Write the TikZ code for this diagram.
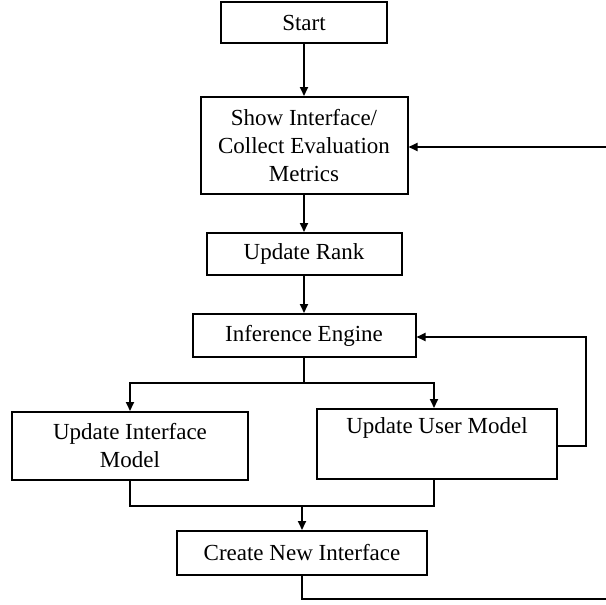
\documentclass[tikz,border=0pt]{standalone}
\usepackage{fontspec}
\setmainfont{Liberation Serif}
\usetikzlibrary{arrows.meta}
\begin{document}
\begin{tikzpicture}[x=1pt,y=-1pt,
  box/.style={draw,line width=2pt,inner sep=0pt,align=center,
    font=\fontsize{23}{28}\selectfont},
  link/.style={line width=1.9pt},
  flow/.style={link,-{Triangle[length=9pt,width=8pt]}}]
  \useasboundingbox (0,0) rectangle (605,605);

  % process boxes
  \node[box,minimum width=166pt,minimum height=41pt] (start) at (304,22.5) {Start};
  \node[box,minimum width=207pt,minimum height=97pt] (show) at (304,145.5)
    {Show Interface/\\Collect Evaluation\\Metrics};
  \node[box,minimum width=195pt,minimum height=42pt] (rank) at (304,254) {Update Rank};
  \node[box,minimum width=223pt,minimum height=43pt] (ie) at (304,335.5) {Inference Engine};
  \node[box,minimum width=236pt,minimum height=68pt] (uim) at (130,446)
    {Update Interface\\Model};
  \node[box,minimum width=240pt,minimum height=70pt] (uum) at (437,444)
    {Update User Model\\\strut};
  \node[box,minimum width=250pt,minimum height=44pt] (cni) at (302,553)
    {Create New Interface};

  % turning points of the connectors
  \coordinate (split) at (304,383);
  \coordinate (join) at (302,506);
  \coordinate (uloop) at (586,0);
  \coordinate (outer) at (620,599);

  % main flow
  \draw[flow] (start) -- (show);
  \draw[flow] (show) -- (rank);
  \draw[flow] (rank) -- (ie);
  \draw[link] (ie.south) -- (split);
  \draw[flow] (split) -| (uim.north);
  \draw[flow] (split) -| ([xshift=-3pt]uum.north);
  \draw[link] (uim.south) |- (join);
  \draw[link] ([xshift=-3pt]uum.south) |- (join);
  \draw[flow] (join) -- (cni.north);

  % feedback loops
  \draw[flow] ([yshift=-2pt]uum.east) -| ([yshift=-2pt]uloop |- uum.east)
    |- ([yshift=-1.5pt]ie.east);
  \draw[flow] (cni.south) |- (outer) |- ([yshift=-1.5pt]show.east);
\end{tikzpicture}
\end{document}
